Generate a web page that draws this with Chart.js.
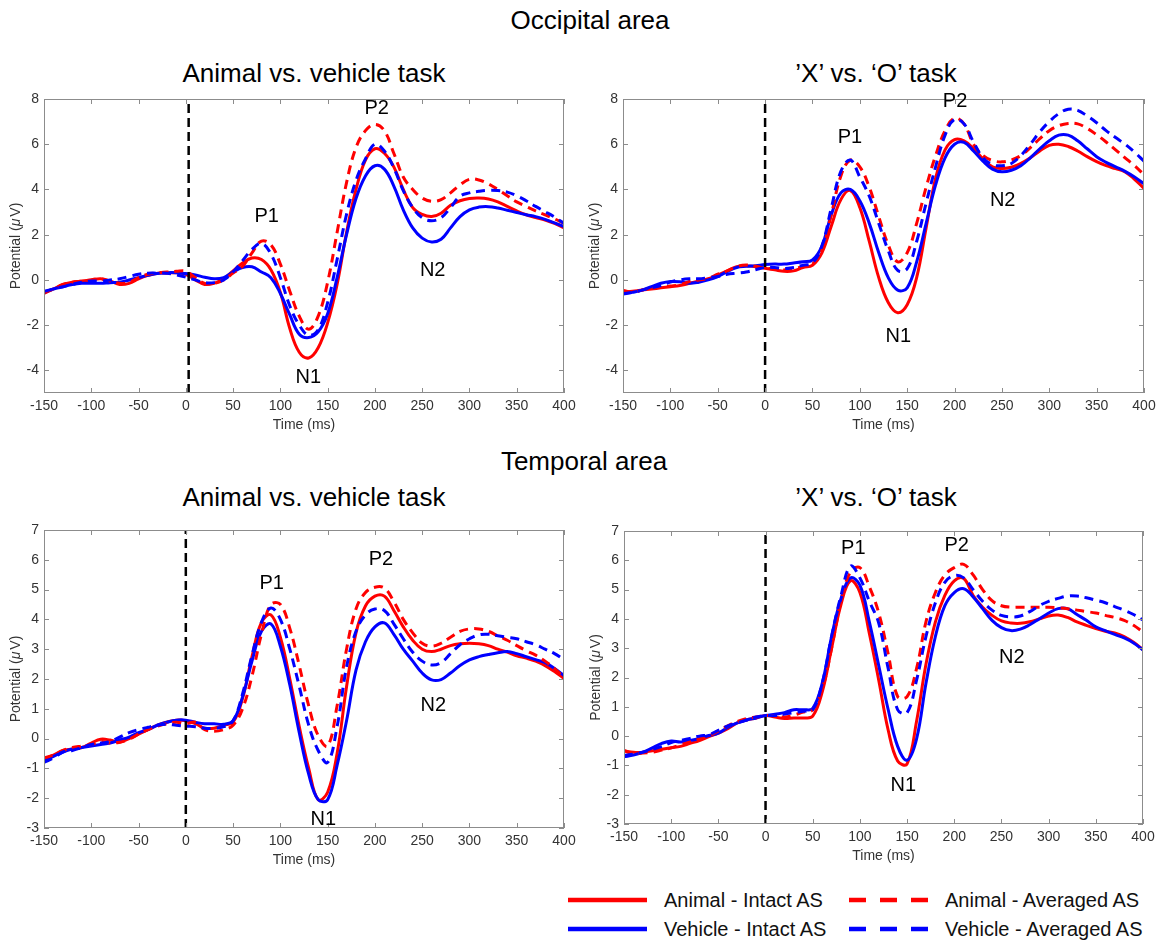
<!DOCTYPE html>
<html>
<head>
<meta charset="utf-8">
<title>ERP waveforms</title>
<script src="https://cdn.jsdelivr.net/npm/chart.js@4.4.0/dist/chart.umd.min.js"></script>
<style>
  html, body { margin: 0; padding: 0; background: #fff; }
  body { width: 1166px; height: 945px; position: relative; overflow: hidden;
         font-family: "Liberation Sans", Arial, Helvetica, sans-serif; }
  .title { position: absolute; white-space: nowrap; transform: translate(-50%, -50%);
           font-size: 26px; line-height: 26px; color: #000; }
  canvas { position: absolute; }
  svg { position: absolute; }
</style>
</head>
<body>
<div class="title" style="left:590px;top:20px">Occipital area</div>
<div class="title" style="left:314px;top:73px">Animal vs. vehicle task</div>
<div class="title" style="left:876px;top:73px">’X’ vs. ‘O’ task</div>
<div class="title" style="left:584px;top:461px">Temporal area</div>
<div class="title" style="left:314px;top:497px">Animal vs. vehicle task</div>
<div class="title" style="left:876px;top:497px">’X’ vs. ‘O’ task</div>

<canvas id="occAV"></canvas>
<canvas id="occXO"></canvas>
<canvas id="tmpAV"></canvas>
<canvas id="tmpXO"></canvas>

<svg width="616" height="65" style="left:550px;top:880px" font-family="Liberation Sans, Arial, Helvetica, sans-serif" font-size="20">
  <line x1="18" y1="20" x2="97" y2="20" stroke="#ff0000" stroke-width="4.5"/>
  <text x="114" y="27.2" fill="#111">Animal - Intact AS</text>
  <line x1="18" y1="49" x2="97" y2="49" stroke="#0000ff" stroke-width="4.5"/>
  <text x="114" y="56.2" fill="#111">Vehicle - Intact AS</text>
  <line x1="299" y1="20" x2="378" y2="20" stroke="#ff0000" stroke-width="4.5" stroke-dasharray="17 14"/>
  <text x="395" y="27.2" fill="#111">Animal - Averaged AS</text>
  <line x1="299" y1="49" x2="378" y2="49" stroke="#0000ff" stroke-width="4.5" stroke-dasharray="17 14"/>
  <text x="395" y="56.2" fill="#111">Vehicle - Averaged AS</text>
</svg>

<script>
// ---- time base (ms) and tick labels ----
const timesMs = [-150,-140,-130,-120,-110,-100,-90,-80,-70,-60,
                 -50,-40,-30,-20,-10,0,10,20,30,40,
                 50,60,70,80,90,100,110,120,130,140,
                 150,160,170,180,190,200,210,220,230,240,
                 250,260,270,280,290,300,310,320,330,340,
                 350,360,370,380,390,400];
const xTickValues = [-150,-100,-50,0,50,100,150,200,250,300,350,400];
const yTicksOccipital = [-4,-2,0,2,4,6,8];
const yTicksTemporal = [-3,-2,-1,0,1,2,3,4,5,6,7];

// ---- occipital area, animal vs. vehicle task (µV) ----
const occAV_animalIntact = [-0.6,-0.4,-0.2,-0.1,-0.05,0.0,0.05,-0.05,-0.2,-0.15,
  0.05,0.2,0.3,0.3,0.32,0.25,0.0,-0.2,-0.15,0.05,
  0.4,0.75,0.97,0.9,0.45,-0.55,-2.15,-3.2,-3.45,-3.0,
  -1.9,-0.2,2.1,4.0,5.3,5.8,5.6,5.0,4.0,3.2,
  2.9,2.8,2.95,3.3,3.5,3.6,3.62,3.58,3.45,3.25,
  3.05,2.88,2.76,2.65,2.5,2.3];
const occAV_vehicleIntact = [-0.55,-0.4,-0.3,-0.2,-0.15,-0.15,-0.15,-0.12,-0.1,0.0,
  0.1,0.2,0.28,0.32,0.32,0.28,0.22,0.12,0.05,0.1,
  0.35,0.55,0.58,0.35,0.1,-0.6,-1.55,-2.4,-2.55,-2.3,
  -1.5,0.1,2.0,3.6,4.6,5.05,4.9,4.15,3.1,2.3,
  1.85,1.68,1.8,2.3,2.8,3.1,3.22,3.24,3.18,3.08,
  2.98,2.88,2.8,2.68,2.52,2.36];
const occAV_animalAveraged = [-0.55,-0.4,-0.2,-0.1,-0.05,0.0,0.05,-0.05,-0.15,-0.1,
  0.1,0.25,0.32,0.35,0.38,0.38,0.1,-0.15,-0.15,0.0,
  0.3,0.6,1.2,1.72,1.55,0.7,-0.5,-1.6,-2.18,-1.6,
  -0.1,2.1,4.3,5.85,6.6,6.88,6.6,5.6,4.55,4.0,
  3.62,3.48,3.55,3.85,4.2,4.45,4.42,4.25,4.0,3.72,
  3.45,3.25,3.05,2.88,2.7,2.5];
const occAV_vehicleAveraged = [-0.5,-0.4,-0.3,-0.2,-0.1,-0.05,-0.05,0.0,0.05,0.15,
  0.25,0.3,0.3,0.3,0.22,0.12,0.0,-0.12,-0.12,0.0,
  0.35,0.85,1.35,1.62,1.15,0.1,-1.15,-2.0,-2.45,-2.2,
  -1.0,0.9,2.9,4.4,5.35,6.0,5.7,4.95,3.95,3.2,
  2.75,2.62,2.75,3.2,3.7,3.85,3.92,3.96,3.95,3.88,
  3.72,3.5,3.25,3.02,2.78,2.5];

// ---- occipital area, 'X' vs. 'O' task ----
const occXO_animalIntact = [-0.55,-0.5,-0.45,-0.4,-0.35,-0.3,-0.25,-0.15,-0.05,0.05,
  0.22,0.4,0.58,0.63,0.58,0.52,0.45,0.38,0.4,0.55,
  0.65,1.2,2.4,3.55,3.95,3.2,1.7,0.1,-1.0,-1.45,
  -1.1,0.1,2.3,4.5,5.75,6.2,6.15,5.8,5.35,5.0,
  4.93,4.98,5.15,5.4,5.7,5.95,6.0,5.9,5.7,5.45,
  5.23,5.05,4.92,4.78,4.45,4.05];
const occXO_vehicleIntact = [-0.63,-0.55,-0.45,-0.3,-0.15,-0.07,-0.08,-0.15,-0.1,0.0,
  0.15,0.37,0.55,0.6,0.63,0.68,0.7,0.7,0.75,0.8,
  0.88,1.5,2.9,3.85,4.0,3.5,2.5,1.2,0.1,-0.45,
  -0.35,0.8,2.5,4.2,5.4,6.0,6.08,5.7,5.25,4.9,
  4.78,4.85,5.05,5.4,5.8,6.15,6.4,6.4,6.15,5.8,
  5.45,5.2,5.0,4.8,4.55,4.25];
const occXO_animalAveraged = [-0.45,-0.55,-0.45,-0.38,-0.32,-0.27,-0.22,-0.07,0.0,0.07,
  0.25,0.4,0.59,0.66,0.6,0.52,0.48,0.44,0.5,0.59,
  0.7,1.3,2.9,4.6,5.3,5.0,4.1,2.8,1.55,0.8,
  1.2,2.5,4.1,5.5,6.6,7.15,6.9,6.0,5.5,5.28,
  5.22,5.3,5.5,5.85,6.25,6.6,6.82,6.92,6.9,6.7,
  6.42,6.1,5.75,5.4,5.05,4.65];
const occXO_vehicleAveraged = [-0.6,-0.55,-0.45,-0.35,-0.25,-0.1,0.0,0.05,0.05,0.1,
  0.15,0.25,0.3,0.35,0.45,0.55,0.55,0.5,0.55,0.65,
  0.75,1.5,3.2,4.8,5.3,4.55,3.7,2.5,1.3,0.42,
  0.5,1.7,3.4,5.0,6.4,7.1,6.9,6.1,5.4,5.1,
  5.05,5.15,5.5,6.0,6.55,7.0,7.35,7.55,7.5,7.25,
  6.95,6.6,6.3,6.0,5.65,5.25];

// ---- temporal area, animal vs. vehicle task ----
const tmpAV_animalIntact = [-0.7,-0.55,-0.4,-0.35,-0.3,-0.15,-0.02,-0.05,-0.12,0.0,
  0.15,0.3,0.45,0.55,0.62,0.6,0.5,0.35,0.35,0.45,
  0.55,1.35,2.75,3.9,4.15,3.4,2.0,0.4,-1.0,-2.05,
  -1.8,-0.5,1.74,3.55,4.45,4.78,4.78,4.3,3.75,3.3,
  3.0,2.92,3.0,3.12,3.18,3.2,3.18,3.12,3.0,2.9,
  2.78,2.7,2.6,2.45,2.25,2.02];
const tmpAV_vehicleIntact = [-0.75,-0.6,-0.45,-0.35,-0.3,-0.25,-0.2,-0.15,-0.05,0.05,
  0.2,0.3,0.45,0.55,0.62,0.62,0.55,0.5,0.5,0.48,
  0.6,1.4,2.6,3.6,3.85,3.1,1.8,0.2,-1.2,-2.05,
  -2.05,-0.9,0.6,2.3,3.25,3.75,3.88,3.5,3.0,2.6,
  2.2,1.97,1.98,2.2,2.45,2.64,2.75,2.82,2.88,2.92,
  2.85,2.75,2.65,2.55,2.35,2.12];
const tmpAV_animalAveraged = [-0.65,-0.55,-0.4,-0.3,-0.25,-0.2,-0.1,-0.15,-0.12,-0.02,
  0.15,0.3,0.42,0.5,0.55,0.5,0.55,0.3,0.25,0.3,
  0.45,1.0,2.1,3.5,4.5,4.5,3.7,2.45,1.1,0.1,
  -0.25,1.1,3.0,4.35,4.9,5.08,5.05,4.6,4.0,3.55,
  3.2,3.1,3.2,3.4,3.6,3.68,3.68,3.6,3.45,3.3,
  3.12,2.95,2.8,2.6,2.35,2.05];
const tmpAV_vehicleAveraged = [-0.8,-0.65,-0.45,-0.4,-0.3,-0.2,-0.15,-0.1,0.05,0.2,
  0.3,0.38,0.45,0.48,0.45,0.42,0.4,0.35,0.35,0.4,
  0.6,1.5,2.8,3.9,4.38,4.0,3.0,1.75,0.45,-0.4,
  -0.8,0.4,2.4,3.6,4.15,4.35,4.3,3.85,3.35,2.9,
  2.6,2.47,2.55,2.85,3.15,3.35,3.48,3.5,3.45,3.4,
  3.35,3.25,3.15,3.0,2.85,2.65];

// ---- temporal area, 'X' vs. 'O' task ----
const tmpXO_animalIntact = [-0.5,-0.55,-0.55,-0.5,-0.45,-0.4,-0.35,-0.25,-0.15,-0.02,
  0.1,0.25,0.45,0.55,0.62,0.7,0.65,0.6,0.62,0.62,
  0.68,1.5,3.0,4.5,5.3,4.9,3.5,1.9,0.2,-0.85,
  -0.95,0.5,2.45,3.9,4.8,5.3,5.38,4.8,4.4,4.12,
  3.93,3.86,3.85,3.9,4.0,4.1,4.13,4.05,3.9,3.78,
  3.67,3.58,3.52,3.4,3.2,2.95];
const tmpXO_vehicleIntact = [-0.7,-0.65,-0.55,-0.4,-0.25,-0.17,-0.2,-0.15,-0.08,0.02,
  0.1,0.3,0.45,0.55,0.62,0.7,0.75,0.8,0.9,0.9,
  0.95,1.8,3.4,4.7,5.4,5.15,3.9,2.4,0.9,-0.35,
  -0.82,-0.1,1.8,3.4,4.45,4.9,5.03,4.75,4.35,3.95,
  3.7,3.6,3.65,3.8,4.0,4.2,4.35,4.35,4.15,3.95,
  3.73,3.6,3.47,3.35,3.18,2.94];
const tmpXO_animalAveraged = [-0.5,-0.6,-0.58,-0.55,-0.48,-0.4,-0.3,-0.2,-0.1,0.0,
  0.18,0.35,0.5,0.6,0.65,0.7,0.7,0.65,0.72,0.82,
  0.9,1.6,3.0,4.6,5.6,5.75,5.1,4.2,2.8,1.35,
  1.35,2.3,3.9,4.9,5.5,5.75,5.86,5.5,5.0,4.62,
  4.45,4.4,4.4,4.4,4.4,4.4,4.38,4.35,4.3,4.25,
  4.2,4.12,4.05,3.95,3.78,3.55];
const tmpXO_vehicleAveraged = [-0.65,-0.62,-0.55,-0.45,-0.35,-0.22,-0.15,-0.08,0.0,0.05,
  0.2,0.35,0.45,0.55,0.65,0.7,0.7,0.75,0.8,0.85,
  0.9,1.8,3.4,4.8,5.8,5.4,4.6,3.85,2.3,0.9,
  0.8,1.9,3.4,4.55,5.25,5.48,5.4,5.0,4.6,4.3,
  4.12,4.07,4.1,4.25,4.45,4.6,4.7,4.78,4.78,4.72,
  4.64,4.55,4.42,4.3,4.15,3.96];

// ---- component labels (time ms, potential µV) ----
const occAV_peaks = [{text:'P1',t:85.5,v:2.8},{text:'N1',t:129.6,v:-4.3},{text:'P2',t:201.9,v:7.6},{text:'N2',t:261.1,v:0.4}];
const occXO_peaks = [{text:'P1',t:89.6,v:6.3},{text:'N1',t:140.6,v:-2.5},{text:'P2',t:200.5,v:7.9},{text:'N2',t:250.8,v:3.5}];
const tmpAV_peaks = [{text:'P1',t:90.8,v:5.2},{text:'N1',t:145.4,v:-2.7},{text:'P2',t:206.4,v:6.0},{text:'N2',t:261.8,v:1.1}];
const tmpXO_peaks = [{text:'P1',t:93.0,v:6.4},{text:'N1',t:146.0,v:-1.7},{text:'P2',t:202.6,v:6.5},{text:'N2',t:260.9,v:2.7}];

// stimulus onset marker (ms)
const onsetMs = { occAV: 3, occXO: 0, tmpAV: 0, tmpXO: 0 };

const FONT = '"Liberation Sans", Arial, Helvetica, sans-serif';
const RED = '#ff0000', BLUE = '#0000ff';

// frame, inward ticks, axis titles and component labels
const axisDecor = {
  id: 'axisDecor',
  afterDraw(chart, _args, opts) {
    const { ctx, chartArea: a, scales: { x, y } } = chart;
    const L = Math.round(a.left), T = Math.round(a.top), R = Math.round(a.right), B = Math.round(a.bottom);
    ctx.save();
    ctx.strokeStyle = '#8c8c8c';
    ctx.lineWidth = 1;
    ctx.strokeRect(L + 0.5, T + 0.5, R - L - 1, B - T - 1);
    ctx.beginPath();
    const tl = 5;
    x.ticks.forEach(tk => {
      const px = Math.round(x.getPixelForValue(tk.value)) + 0.5;
      ctx.moveTo(px, B); ctx.lineTo(px, B - tl);
      ctx.moveTo(px, T); ctx.lineTo(px, T + tl);
    });
    y.ticks.forEach(tk => {
      const py = Math.round(y.getPixelForValue(tk.value)) + 0.5;
      ctx.moveTo(L, py); ctx.lineTo(L + tl, py);
      ctx.moveTo(R, py); ctx.lineTo(R - tl, py);
    });
    ctx.stroke();

    // axis titles
    ctx.fillStyle = '#333';
    ctx.textBaseline = 'middle';
    ctx.textAlign = 'center';
    ctx.font = '14px ' + FONT;
    ctx.fillText('Time (ms)', (a.left + a.right) / 2, a.bottom + 32);

    ctx.save();
    ctx.translate(a.left - 28, (a.top + a.bottom) / 2);
    ctx.rotate(-Math.PI / 2);
    const parts = [['Potential (', '14px ' + FONT], ['\u03BC', 'italic 14px ' + FONT], ['V)', '14px ' + FONT]];
    let total = 0;
    parts.forEach(p => { ctx.font = p[1]; total += ctx.measureText(p[0]).width; });
    total += 2;
    let cx = -total / 2;
    ctx.textAlign = 'left';
    parts.forEach((p, i) => {
      ctx.font = p[1];
      ctx.fillText(p[0], cx, 0);
      cx += ctx.measureText(p[0]).width + (i === 1 ? 2 : 0);
    });
    ctx.restore();

    // component labels
    ctx.fillStyle = '#000';
    ctx.font = '20px ' + FONT;
    ctx.textAlign = 'center';
    ctx.textBaseline = 'middle';
    (opts.peaks || []).forEach(p => {
      ctx.fillText(p.text, x.getPixelForValue(p.t), y.getPixelForValue(p.v));
    });
    ctx.restore();
  }
};

function toPoints(values) {
  return timesMs.map((t, i) => ({ x: t, y: values[i] }));
}

function wave(label, values, color, dashed, order) {
  return {
    label, data: toPoints(values), borderColor: color, borderWidth: 3,
    borderDash: dashed ? [9, 6] : [], pointRadius: 0, tension: 0.4,
    fill: false, order
  };
}

function makePanel(id, box, yMin, yMax, yTicks, series, peaks, onset) {
  const padTop = 12, padRight = 20, yAxisW = 44, xAxisH = 45;
  const cv = document.getElementById(id);
  const w = box.right - box.left + yAxisW + padRight;
  const h = box.bottom - box.top + padTop + xAxisH;
  cv.width = w; cv.height = h;
  cv.style.left = (box.left - yAxisW) + 'px';
  cv.style.top = (box.top - padTop) + 'px';

  const datasets = [
    wave('Animal - Intact AS', series[0], RED, false, 4),
    wave('Vehicle - Intact AS', series[1], BLUE, false, 3),
    wave('Animal - Averaged AS', series[2], RED, true, 2),
    wave('Vehicle - Averaged AS', series[3], BLUE, true, 1),
    { label: 'onset', data: [{ x: onset, y: yMin }, { x: onset, y: yMax }],
      borderColor: '#000', borderWidth: 2.5, borderDash: [9, 5], pointRadius: 0, order: 0 }
  ];

  new Chart(cv, {
    type: 'line',
    data: { datasets },
    options: {
      responsive: false, animation: false, devicePixelRatio: 1,
      layout: { padding: { left: 0, right: padRight, top: padTop, bottom: 0 } },
      plugins: { legend: { display: false }, tooltip: { enabled: false }, axisDecor: { peaks } },
      scales: {
        x: {
          type: 'linear', min: -150, max: 400,
          grid: { display: false, drawTicks: false }, border: { display: false },
          afterBuildTicks: s => { s.ticks = xTickValues.map(v => ({ value: v })); },
          afterFit: s => { s.height = xAxisH; s.paddingLeft = 0; s.paddingRight = 0; },
          ticks: { font: { size: 14, family: FONT }, color: '#333', padding: 5, maxRotation: 0, autoSkip: false }
        },
        y: {
          type: 'linear', min: yMin, max: yMax,
          grid: { display: false, drawTicks: false }, border: { display: false },
          afterBuildTicks: s => { s.ticks = yTicks.map(v => ({ value: v })); },
          afterFit: s => { s.width = yAxisW; s.paddingTop = 0; s.paddingBottom = 0; },
          ticks: { font: { size: 14, family: FONT }, color: '#333', padding: 5, autoSkip: false }
        }
      }
    },
    plugins: [axisDecor]
  });
}

makePanel('occAV', { left: 44, top: 99, right: 564, bottom: 393 }, -5, 8, yTicksOccipital,
  [occAV_animalIntact, occAV_vehicleIntact, occAV_animalAveraged, occAV_vehicleAveraged], occAV_peaks, onsetMs.occAV);
makePanel('occXO', { left: 623, top: 99, right: 1144, bottom: 393 }, -5, 8, yTicksOccipital,
  [occXO_animalIntact, occXO_vehicleIntact, occXO_animalAveraged, occXO_vehicleAveraged], occXO_peaks, onsetMs.occXO);
makePanel('tmpAV', { left: 44, top: 530, right: 564, bottom: 828 }, -3, 7, yTicksTemporal,
  [tmpAV_animalIntact, tmpAV_vehicleIntact, tmpAV_animalAveraged, tmpAV_vehicleAveraged], tmpAV_peaks, onsetMs.tmpAV);
makePanel('tmpXO', { left: 624, top: 531, right: 1143, bottom: 824 }, -3, 7, yTicksTemporal,
  [tmpXO_animalIntact, tmpXO_vehicleIntact, tmpXO_animalAveraged, tmpXO_vehicleAveraged], tmpXO_peaks, onsetMs.tmpXO);
</script>
</body>
</html>
